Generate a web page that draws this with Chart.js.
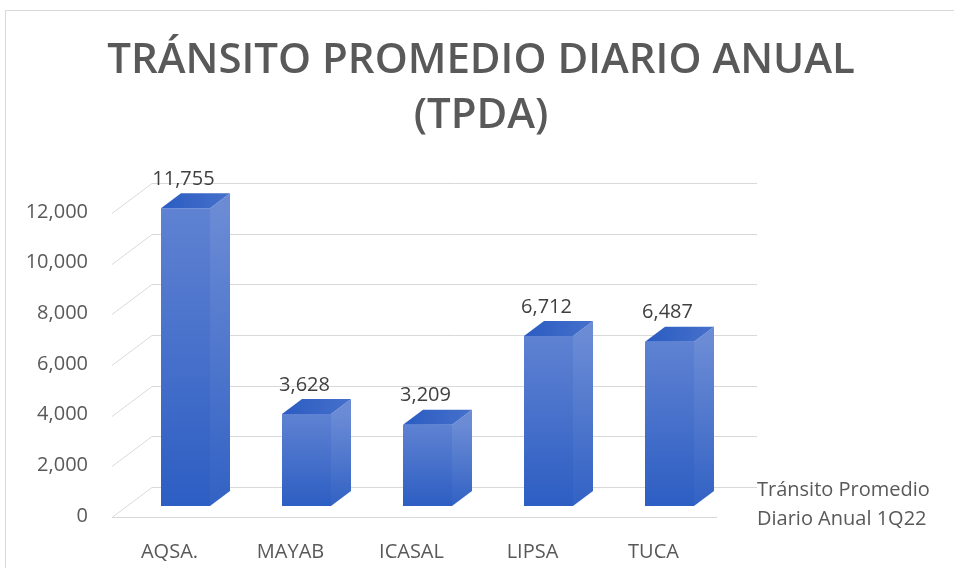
<!DOCTYPE html>
<html>
<head>
<meta charset="utf-8">
<script src="https://cdn.jsdelivr.net/npm/chart.js@4.4.1/dist/chart.umd.min.js"></script>
<style>
  html, body { margin: 0; padding: 0; background: #fff; }
  canvas { display: block; }
</style>
</head>
<body>
<canvas id="tpda" width="954" height="568"></canvas>
<script>
const CATEGORIES = ["AQSA.", "MAYAB", "ICASAL", "LIPSA", "TUCA"];
const TPDA_VALUES = [11755, 3628, 3209, 6712, 6487];
const SERIES_NAME = "Tránsito Promedio Diario Anual 1Q22";
const LEGEND_LINES = ["Tránsito Promedio", "Diario Anual 1Q22"];
const TITLE_LINES = ["TRÁNSITO PROMEDIO DIARIO ANUAL", "(TPDA)"];
const Y_MAX = 12000;
const Y_STEP = 2000;

const GREY = "#595959";
const GRID = "#d9d9d9";
const FONT = "'Open Sans', sans-serif";
// fake 3d: bars go back 20/15 px, the floor runs from -13/+11 to +27/-19
const BAR_DX = 20, BAR_DY = 15;
const FRONT_DX = -13, FRONT_DY = 11;
const BACK_DX = 27, BACK_DY = -19;

const fmt = v => v.toLocaleString("en-US");

// size the title so the first line is as wide as in the original
const measure = document.createElement("canvas").getContext("2d");
measure.font = `600 40px ${FONT}`;
const titleSize = Math.round(40 * 750 / measure.measureText(TITLE_LINES[0]).width);

const frontFill = (ctx) => {
  const chart = ctx.chart;
  const y = chart.scales.y;
  if (!chart.chartArea || !y || !ctx.parsed) return "#3a66c8";
  const y1 = y.getPixelForValue(ctx.parsed.y);
  const y2 = y.getPixelForValue(0);
  if (!Number.isFinite(y1) || !Number.isFinite(y2)) return "#3a66c8";
  const g = chart.ctx.createLinearGradient(0, y1, 0, y2);
  g.addColorStop(0, "#5f82d2");
  g.addColorStop(1, "#2d5ec3");
  return g;
};

const border = {
  id: "border",
  beforeDraw(chart) {
    const c = chart.ctx;
    c.save();
    c.strokeStyle = GRID;
    c.lineWidth = 1;
    c.beginPath();
    c.moveTo(5.5, chart.height + 5);
    c.lineTo(5.5, 10.5);
    c.lineTo(chart.width + 5, 10.5);
    c.stroke();
    c.restore();
  }
};

const wall = {
  id: "wall",
  beforeDatasetsDraw(chart) {
    const c = chart.ctx;
    const y = chart.scales.y;
    const { left, right } = chart.chartArea;
    c.save();
    c.strokeStyle = GRID;
    c.lineWidth = 1;
    y.ticks.forEach(t => {
      const py = Math.round(y.getPixelForValue(t.value)) + 0.5;
      c.beginPath();
      c.moveTo(left + FRONT_DX, py + FRONT_DY);
      c.lineTo(left + BACK_DX, py + BACK_DY);
      c.lineTo(right + BACK_DX, py + BACK_DY);
      c.stroke();
    });
    const p0 = Math.round(y.getPixelForValue(0)) + 0.5;
    c.beginPath();
    c.moveTo(left + FRONT_DX, p0 + FRONT_DY);
    c.lineTo(right + FRONT_DX, p0 + FRONT_DY);
    c.stroke();
    c.restore();
  }
};

const boxes = {
  id: "boxes",
  afterDatasetsDraw(chart) {
    const c = chart.ctx;
    const meta = chart.getDatasetMeta(0);
    c.save();
    meta.data.forEach((bar, i) => {
      const l = bar.x - bar.width / 2;
      const r = bar.x + bar.width / 2;
      const top = bar.y, base = bar.base;

      const side = c.createLinearGradient(0, top, 0, base);
      side.addColorStop(0, "#6b8bd5");
      side.addColorStop(1, "#3262c4");
      c.fillStyle = side;
      c.beginPath();
      c.moveTo(r, top);
      c.lineTo(r + BAR_DX, top - BAR_DY);
      c.lineTo(r + BAR_DX, base - BAR_DY);
      c.lineTo(r, base);
      c.closePath();
      c.fill();

      const lid = c.createLinearGradient(l, 0, r + BAR_DX, 0);
      lid.addColorStop(0, "#2b5cc2");
      lid.addColorStop(1, "#4670cb");
      c.fillStyle = lid;
      c.beginPath();
      c.moveTo(l, top);
      c.lineTo(l + BAR_DX, top - BAR_DY);
      c.lineTo(r + BAR_DX, top - BAR_DY);
      c.lineTo(r, top);
      c.closePath();
      c.fill();

      c.fillStyle = "#404040";
      c.font = `20px ${FONT}`;
      c.textAlign = "center";
      c.textBaseline = "middle";
      c.fillText(fmt(TPDA_VALUES[i]), bar.x - 2, top - BAR_DY - 14);
    });

    // series name, no key, like the original
    const y0 = chart.scales.y.getPixelForValue(0);
    c.fillStyle = GREY;
    c.font = `20px ${FONT}`;
    c.textAlign = "left";
    c.textBaseline = "middle";
    LEGEND_LINES.forEach((line, k) => {
      c.fillText(line, chart.chartArea.right + 27, y0 - 16 + k * 29);
    });
    c.restore();
  }
};

new Chart(document.getElementById("tpda"), {
  type: "bar",
  data: {
    labels: CATEGORIES,
    datasets: [{
      label: SERIES_NAME,
      data: TPDA_VALUES,
      backgroundColor: frontFill,
      borderWidth: 0,
      barPercentage: 0.405,
      categoryPercentage: 1.0
    }]
  },
  options: {
    responsive: false,
    animation: false,
    layout: { padding: { left: 8, top: 0, right: 0, bottom: 0 } },
    plugins: {
      legend: { display: false },
      tooltip: { enabled: false },
      title: {
        display: true,
        text: TITLE_LINES,
        color: GREY,
        font: { family: FONT, size: titleSize, weight: 600, lineHeight: 55 / titleSize },
        padding: { top: 34, bottom: 58 }
      }
    },
    scales: {
      x: {
        grid: { display: false, drawTicks: false },
        border: { display: false },
        ticks: { color: GREY, font: { family: FONT, size: 20 }, padding: 34, labelOffset: -16 },
        afterFit(s) { s.height = 62; }
      },
      y: {
        min: 0,
        max: Y_MAX,
        grid: { display: false, drawTicks: false },
        border: { display: false },
        ticks: {
          stepSize: Y_STEP,
          color: GREY,
          font: { family: FONT, size: 20 },
          padding: 37,
          labelOffset: 10,
          callback: v => fmt(v)
        },
        afterFit(s) { s.width = 117; }
      },
      // empty axis that keeps room on the right for the series name
      yR: {
        type: "linear",
        position: "right",
        grid: { display: false, drawTicks: false },
        border: { display: false },
        ticks: { display: false },
        afterFit(s) { s.width = 224; }
      }
    }
  },
  plugins: [border, wall, boxes]
});
</script>
</body>
</html>
